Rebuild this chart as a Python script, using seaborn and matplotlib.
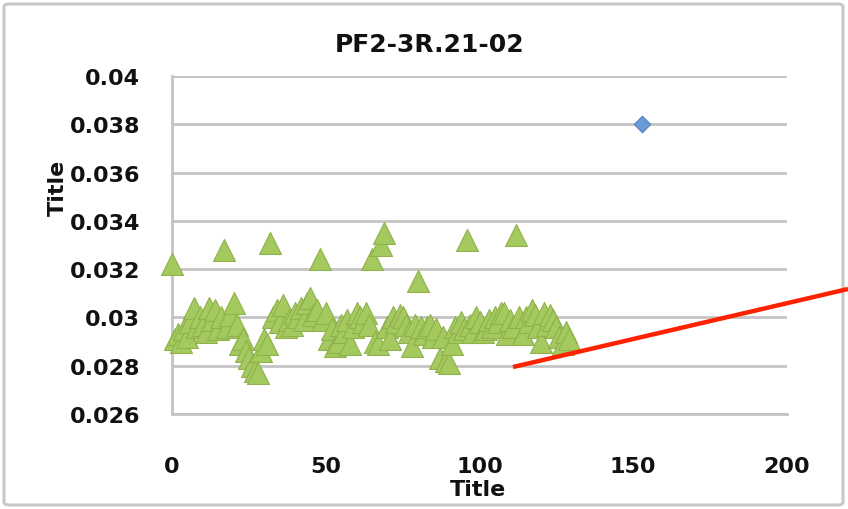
import matplotlib
matplotlib.use("Agg")
import matplotlib.pyplot as plt
import seaborn as sns
import pandas as pd
from matplotlib.lines import Line2D
from matplotlib.patches import FancyBboxPatch

# ---- data ----
title = "PF2-3R.21-02"
x_label = "Title"
y_label = "Title"

tri_x = list(range(0, 130))
tri_y = [
    0.0322, 0.0291, 0.0293, 0.0290, 0.0295, 0.0292, 0.0298, 0.0304, 0.0296, 0.0300,
    0.0297, 0.0294, 0.0304, 0.0299, 0.0303, 0.0295, 0.0300, 0.0328, 0.0296, 0.0301,
    0.0306, 0.0297, 0.0289, 0.0291, 0.0286, 0.0283, 0.0280, 0.0278, 0.0277, 0.0286,
    0.0291, 0.0289, 0.0331, 0.0300, 0.0303, 0.0298, 0.0305, 0.0296, 0.0299, 0.0297,
    0.0302, 0.0300, 0.0304, 0.0299, 0.0306, 0.0308, 0.0301, 0.0303, 0.0324, 0.0299,
    0.0302, 0.0291, 0.0295, 0.0288, 0.0290, 0.0297, 0.0294, 0.0299, 0.0289, 0.0296,
    0.0302, 0.0300, 0.0298, 0.0302, 0.0297, 0.0324, 0.0290, 0.0289, 0.0330, 0.0335,
    0.0296, 0.0291, 0.0300, 0.0298, 0.0301, 0.0300, 0.0297, 0.0294, 0.0288, 0.0297,
    0.0315, 0.0296, 0.0293, 0.0296, 0.0297, 0.0292, 0.0295, 0.0283, 0.0292, 0.0282,
    0.0281, 0.0289, 0.0296, 0.0294, 0.0298, 0.0295, 0.0332, 0.0297, 0.0294, 0.0300,
    0.0298, 0.0294, 0.0295, 0.0299, 0.0296, 0.0300, 0.0298, 0.0302, 0.0302, 0.0293,
    0.0299, 0.0296, 0.0334, 0.0300, 0.0293, 0.0300, 0.0298, 0.0303, 0.0301, 0.0296,
    0.0290, 0.0302, 0.0297, 0.0301, 0.0299, 0.0296, 0.0292, 0.0289, 0.0294, 0.0291,
]
dia_x = [153]
dia_y = [0.0380]

x_ticks = [0, 50, 100, 150, 200]
y_ticks = [0.026, 0.028, 0.030, 0.032, 0.034, 0.036, 0.038, 0.040]
y_tick_labels = ["0.026", "0.028", "0.03", "0.032", "0.034", "0.036", "0.038", "0.04"]

tri_df = pd.DataFrame({"x": tri_x, "y": tri_y})
dia_df = pd.DataFrame({"x": dia_x, "y": dia_y})

# ---- figure ----
sns.set_style("white")
plt.rcParams["font.family"] = ["DejaVu Sans"]
W, H = 848, 510
fig = plt.figure(figsize=(W / 100, H / 100), dpi=100)

# chart border
fig.add_artist(FancyBboxPatch((4 / W, 4 / H), 1 - 9 / W, 1 - 9 / H,
                              boxstyle="round,pad=0,rounding_size=0.006",
                              transform=fig.transFigure, fill=False,
                              edgecolor="#c8c8c8", linewidth=2.2))

left, right = 172 / W, 787 / W
top, bottom = 1 - 77 / H, 1 - 415 / H
ax = fig.add_axes([left, bottom, right - left, top - bottom])

grid_c = "#c4c4c4"
ax.set_xlim(0, 200)
ax.set_ylim(0.026, 0.040)
ax.set_yticks(y_ticks)
ax.set_yticklabels(y_tick_labels)
ax.set_xticks(x_ticks)
ax.yaxis.grid(True, color=grid_c, linewidth=2.0)
ax.xaxis.grid(False)
ax.set_axisbelow(True)
for s in ["top", "right"]:
    ax.spines[s].set_visible(False)
for s in ["left", "bottom"]:
    ax.spines[s].set_color(grid_c)
    ax.spines[s].set_linewidth(2.0)
ax.tick_params(axis="y", direction="out", length=7, width=2.0, color=grid_c,
               pad=16, labelsize=16)
ax.tick_params(axis="x", direction="out", length=6, width=2.0, color=grid_c,
               pad=24, labelsize=16)
for lab in ax.get_xticklabels() + ax.get_yticklabels():
    lab.set_fontweight("bold")
    lab.set_color("#111111")

sns.scatterplot(data=tri_df, x="x", y="y", ax=ax, marker="^", s=250,
                color="#a4c95e", edgecolor="#8fb24c", linewidth=0.8,
                zorder=3, legend=False, clip_on=False)
sns.scatterplot(data=dia_df, x="x", y="y", ax=ax, marker="D", s=70,
                color="#6b9bd6", edgecolor="#4f7fc0", linewidth=0.8,
                zorder=3, legend=False)
ax.set_xlabel("")
ax.set_ylabel("")

# titles
fig.text(430 / W, 1 - 45 / H, title, ha="center", va="center",
         fontsize=18, fontweight="bold", color="#111111")
fig.text(478 / W, 1 - 490 / H, x_label, ha="center", va="center",
         fontsize=16, fontweight="bold", color="#111111")
fig.text(58 / W, 1 - 188 / H, y_label, ha="center", va="center", rotation=90,
         fontsize=16, fontweight="bold", color="#111111")

# red annotation line
fig.add_artist(Line2D([513 / W, 1.0], [1 - 368 / H, 1 - 290 / H],
                      transform=fig.transFigure, color="#ff2200", linewidth=3.2,
                      solid_capstyle="butt"))

fig.savefig("out.png", dpi=100)
